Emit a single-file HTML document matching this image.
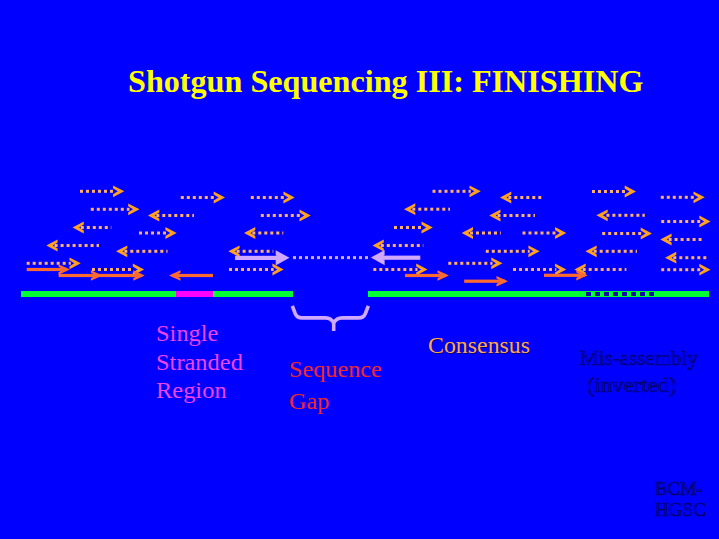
<!DOCTYPE html>
<html><head><meta charset="utf-8"><style>
html,body{margin:0;padding:0;}
body{width:719px;height:539px;background:#0000FF;position:relative;overflow:hidden;font-family:"Liberation Serif",serif;}
</style></head><body>
<svg width="719" height="539" viewBox="0 0 719 539" style="position:absolute;left:0;top:0">
<rect fill="#00FF33" x="21" y="291" width="155" height="6"/>
<rect fill="#FF00FF" x="176" y="291" width="37" height="6"/>
<rect fill="#00FF33" x="213" y="291" width="80" height="6"/>
<rect fill="#00FF33" x="368" y="291" width="341" height="6"/>
<g fill="#1010A0"><rect x="586" y="292" width="5" height="4"/><rect x="595" y="292" width="5" height="4"/><rect x="604" y="292" width="5" height="4"/><rect x="613" y="292" width="5" height="4"/><rect x="622" y="292" width="5" height="4"/><rect x="631" y="292" width="5" height="4"/><rect x="640" y="292" width="5" height="4"/><rect x="649" y="292" width="5" height="4"/></g><g fill="#FFB060"><rect x="80.00" y="189.80" width="3.00" height="3"/><rect x="86.00" y="189.80" width="3.00" height="3"/><rect x="92.00" y="189.80" width="3.00" height="3"/><rect x="98.00" y="189.80" width="3.00" height="3"/><rect x="104.00" y="189.80" width="3.00" height="3"/><rect x="110.00" y="189.80" width="3.00" height="3"/></g><polygon fill="#FFA020" points="124.30,191.30 113.00,185.40 113.00,188.30 117.80,191.30 113.00,194.30 113.00,197.20"/><g fill="#FFB060"><rect x="90.80" y="207.80" width="3.00" height="3"/><rect x="96.80" y="207.80" width="3.00" height="3"/><rect x="102.80" y="207.80" width="3.00" height="3"/><rect x="108.80" y="207.80" width="3.00" height="3"/><rect x="114.80" y="207.80" width="3.00" height="3"/><rect x="120.80" y="207.80" width="3.00" height="3"/><rect x="126.80" y="207.80" width="2.70" height="3"/></g><polygon fill="#FFA020" points="139.50,209.30 128.20,203.40 128.20,206.30 133.00,209.30 128.20,212.30 128.20,215.20"/><g fill="#FFB060"><rect x="156.30" y="214.00" width="3.00" height="3"/><rect x="162.30" y="214.00" width="3.00" height="3"/><rect x="168.30" y="214.00" width="3.00" height="3"/><rect x="174.30" y="214.00" width="3.00" height="3"/><rect x="180.30" y="214.00" width="3.00" height="3"/><rect x="186.30" y="214.00" width="3.00" height="3"/><rect x="192.30" y="214.00" width="1.70" height="3"/></g><polygon fill="#FFA020" points="148.00,215.50 159.30,209.60 159.30,212.50 154.50,215.50 159.30,218.50 159.30,221.40"/><g fill="#FFB060"><rect x="80.80" y="226.00" width="3.00" height="3"/><rect x="86.80" y="226.00" width="3.00" height="3"/><rect x="92.80" y="226.00" width="3.00" height="3"/><rect x="98.80" y="226.00" width="3.00" height="3"/><rect x="104.80" y="226.00" width="3.00" height="3"/><rect x="110.80" y="226.00" width="0.50" height="3"/></g><polygon fill="#FFA020" points="72.50,227.50 83.80,221.60 83.80,224.50 79.00,227.50 83.80,230.50 83.80,233.40"/><g fill="#FFB060"><rect x="139.00" y="231.50" width="3.00" height="3"/><rect x="145.00" y="231.50" width="3.00" height="3"/><rect x="151.00" y="231.50" width="3.00" height="3"/><rect x="157.00" y="231.50" width="3.00" height="3"/><rect x="163.00" y="231.50" width="3.00" height="3"/></g><polygon fill="#FFA020" points="176.70,233.00 165.40,227.10 165.40,230.00 170.20,233.00 165.40,236.00 165.40,238.90"/><g fill="#FFB060"><rect x="54.60" y="244.00" width="3.00" height="3"/><rect x="60.60" y="244.00" width="3.00" height="3"/><rect x="66.60" y="244.00" width="3.00" height="3"/><rect x="72.60" y="244.00" width="3.00" height="3"/><rect x="78.60" y="244.00" width="3.00" height="3"/><rect x="84.60" y="244.00" width="3.00" height="3"/><rect x="90.60" y="244.00" width="3.00" height="3"/><rect x="96.60" y="244.00" width="2.40" height="3"/></g><polygon fill="#FFA020" points="46.30,245.50 57.60,239.60 57.60,242.50 52.80,245.50 57.60,248.50 57.60,251.40"/><g fill="#FFB060"><rect x="124.30" y="249.80" width="3.00" height="3"/><rect x="130.30" y="249.80" width="3.00" height="3"/><rect x="136.30" y="249.80" width="3.00" height="3"/><rect x="142.30" y="249.80" width="3.00" height="3"/><rect x="148.30" y="249.80" width="3.00" height="3"/><rect x="154.30" y="249.80" width="3.00" height="3"/><rect x="160.30" y="249.80" width="3.00" height="3"/><rect x="166.30" y="249.80" width="1.20" height="3"/></g><polygon fill="#FFA020" points="116.00,251.30 127.30,245.40 127.30,248.30 122.50,251.30 127.30,254.30 127.30,257.20"/><g fill="#FFB060"><rect x="26.70" y="261.80" width="3.00" height="3"/><rect x="32.70" y="261.80" width="3.00" height="3"/><rect x="38.70" y="261.80" width="3.00" height="3"/><rect x="44.70" y="261.80" width="3.00" height="3"/><rect x="50.70" y="261.80" width="3.00" height="3"/><rect x="56.70" y="261.80" width="3.00" height="3"/><rect x="62.70" y="261.80" width="3.00" height="3"/><rect x="68.70" y="261.80" width="2.10" height="3"/></g><polygon fill="#FFA020" points="80.80,263.30 69.50,257.40 69.50,260.30 74.30,263.30 69.50,266.30 69.50,269.20"/><g fill="#FFB060"><rect x="92.00" y="268.00" width="3.00" height="3"/><rect x="98.00" y="268.00" width="3.00" height="3"/><rect x="104.00" y="268.00" width="3.00" height="3"/><rect x="110.00" y="268.00" width="3.00" height="3"/><rect x="116.00" y="268.00" width="3.00" height="3"/><rect x="122.00" y="268.00" width="3.00" height="3"/><rect x="128.00" y="268.00" width="3.00" height="3"/></g><polygon fill="#FFA020" points="144.10,269.50 132.80,263.60 132.80,266.50 137.60,269.50 132.80,272.50 132.80,275.40"/><g fill="#FFB060"><rect x="180.80" y="196.00" width="3.00" height="3"/><rect x="186.80" y="196.00" width="3.00" height="3"/><rect x="192.80" y="196.00" width="3.00" height="3"/><rect x="198.80" y="196.00" width="3.00" height="3"/><rect x="204.80" y="196.00" width="3.00" height="3"/><rect x="210.80" y="196.00" width="3.00" height="3"/></g><polygon fill="#FFA020" points="225.00,197.50 213.70,191.60 213.70,194.50 218.50,197.50 213.70,200.50 213.70,203.40"/><g fill="#FFB060"><rect x="250.80" y="196.00" width="3.00" height="3"/><rect x="256.80" y="196.00" width="3.00" height="3"/><rect x="262.80" y="196.00" width="3.00" height="3"/><rect x="268.80" y="196.00" width="3.00" height="3"/><rect x="274.80" y="196.00" width="3.00" height="3"/><rect x="280.80" y="196.00" width="3.00" height="3"/></g><polygon fill="#FFA020" points="294.70,197.50 283.40,191.60 283.40,194.50 288.20,197.50 283.40,200.50 283.40,203.40"/><g fill="#FFB060"><rect x="260.80" y="214.00" width="3.00" height="3"/><rect x="266.80" y="214.00" width="3.00" height="3"/><rect x="272.80" y="214.00" width="3.00" height="3"/><rect x="278.80" y="214.00" width="3.00" height="3"/><rect x="284.80" y="214.00" width="3.00" height="3"/><rect x="290.80" y="214.00" width="3.00" height="3"/><rect x="296.80" y="214.00" width="3.00" height="3"/></g><polygon fill="#FFA020" points="310.80,215.50 299.50,209.60 299.50,212.50 304.30,215.50 299.50,218.50 299.50,221.40"/><g fill="#FFB060"><rect x="252.30" y="231.50" width="3.00" height="3"/><rect x="258.30" y="231.50" width="3.00" height="3"/><rect x="264.30" y="231.50" width="3.00" height="3"/><rect x="270.30" y="231.50" width="3.00" height="3"/><rect x="276.30" y="231.50" width="3.00" height="3"/><rect x="282.30" y="231.50" width="1.00" height="3"/></g><polygon fill="#FFA020" points="244.00,233.00 255.30,227.10 255.30,230.00 250.50,233.00 255.30,236.00 255.30,238.90"/><g fill="#FFB060"><rect x="236.60" y="249.80" width="3.00" height="3"/><rect x="242.60" y="249.80" width="3.00" height="3"/><rect x="248.60" y="249.80" width="3.00" height="3"/><rect x="254.60" y="249.80" width="3.00" height="3"/><rect x="260.60" y="249.80" width="3.00" height="3"/><rect x="266.60" y="249.80" width="3.00" height="3"/><rect x="272.60" y="249.80" width="0.70" height="3"/></g><polygon fill="#FFA020" points="228.30,251.30 239.60,245.40 239.60,248.30 234.80,251.30 239.60,254.30 239.60,257.20"/><g fill="#FFB060"><rect x="229.00" y="268.00" width="3.00" height="3"/><rect x="235.00" y="268.00" width="3.00" height="3"/><rect x="241.00" y="268.00" width="3.00" height="3"/><rect x="247.00" y="268.00" width="3.00" height="3"/><rect x="253.00" y="268.00" width="3.00" height="3"/><rect x="259.00" y="268.00" width="3.00" height="3"/><rect x="265.00" y="268.00" width="3.00" height="3"/><rect x="271.00" y="268.00" width="2.70" height="3"/></g><polygon fill="#FFA020" points="283.70,269.50 272.40,263.60 272.40,266.50 277.20,269.50 272.40,272.50 272.40,275.40"/><g fill="#FFB060"><rect x="380.80" y="244.00" width="3.00" height="3"/><rect x="386.80" y="244.00" width="3.00" height="3"/><rect x="392.80" y="244.00" width="3.00" height="3"/><rect x="398.80" y="244.00" width="3.00" height="3"/><rect x="404.80" y="244.00" width="3.00" height="3"/><rect x="410.80" y="244.00" width="3.00" height="3"/><rect x="416.80" y="244.00" width="3.00" height="3"/><rect x="422.80" y="244.00" width="0.50" height="3"/></g><polygon fill="#FFA020" points="372.50,245.50 383.80,239.60 383.80,242.50 379.00,245.50 383.80,248.50 383.80,251.40"/><g fill="#FFB060"><rect x="373.30" y="268.00" width="3.00" height="3"/><rect x="379.30" y="268.00" width="3.00" height="3"/><rect x="385.30" y="268.00" width="3.00" height="3"/><rect x="391.30" y="268.00" width="3.00" height="3"/><rect x="397.30" y="268.00" width="3.00" height="3"/><rect x="403.30" y="268.00" width="3.00" height="3"/><rect x="409.30" y="268.00" width="3.00" height="3"/><rect x="415.30" y="268.00" width="2.20" height="3"/></g><polygon fill="#FFA020" points="427.50,269.50 416.20,263.60 416.20,266.50 421.00,269.50 416.20,272.50 416.20,275.40"/><g fill="#FFB060"><rect x="432.50" y="189.80" width="3.00" height="3"/><rect x="438.50" y="189.80" width="3.00" height="3"/><rect x="444.50" y="189.80" width="3.00" height="3"/><rect x="450.50" y="189.80" width="3.00" height="3"/><rect x="456.50" y="189.80" width="3.00" height="3"/><rect x="462.50" y="189.80" width="3.00" height="3"/><rect x="468.50" y="189.80" width="2.30" height="3"/></g><polygon fill="#FFA020" points="480.80,191.30 469.50,185.40 469.50,188.30 474.30,191.30 469.50,194.30 469.50,197.20"/><g fill="#FFB060"><rect x="412.30" y="207.70" width="3.00" height="3"/><rect x="418.30" y="207.70" width="3.00" height="3"/><rect x="424.30" y="207.70" width="3.00" height="3"/><rect x="430.30" y="207.70" width="3.00" height="3"/><rect x="436.30" y="207.70" width="3.00" height="3"/><rect x="442.30" y="207.70" width="3.00" height="3"/><rect x="448.30" y="207.70" width="1.70" height="3"/></g><polygon fill="#FFA020" points="404.00,209.20 415.30,203.30 415.30,206.20 410.50,209.20 415.30,212.20 415.30,215.10"/><g fill="#FFB060"><rect x="394.00" y="226.00" width="3.00" height="3"/><rect x="400.00" y="226.00" width="3.00" height="3"/><rect x="406.00" y="226.00" width="3.00" height="3"/><rect x="412.00" y="226.00" width="3.00" height="3"/><rect x="418.00" y="226.00" width="3.00" height="3"/></g><polygon fill="#FFA020" points="432.80,227.50 421.50,221.60 421.50,224.50 426.30,227.50 421.50,230.50 421.50,233.40"/><g fill="#FFB060"><rect x="470.00" y="231.50" width="3.00" height="3"/><rect x="476.00" y="231.50" width="3.00" height="3"/><rect x="482.00" y="231.50" width="3.00" height="3"/><rect x="488.00" y="231.50" width="3.00" height="3"/><rect x="494.00" y="231.50" width="3.00" height="3"/><rect x="500.00" y="231.50" width="0.80" height="3"/></g><polygon fill="#FFA020" points="461.70,233.00 473.00,227.10 473.00,230.00 468.20,233.00 473.00,236.00 473.00,238.90"/><g fill="#FFB060"><rect x="508.30" y="196.00" width="3.00" height="3"/><rect x="514.30" y="196.00" width="3.00" height="3"/><rect x="520.30" y="196.00" width="3.00" height="3"/><rect x="526.30" y="196.00" width="3.00" height="3"/><rect x="532.30" y="196.00" width="3.00" height="3"/><rect x="538.30" y="196.00" width="3.00" height="3"/></g><polygon fill="#FFA020" points="500.00,197.50 511.30,191.60 511.30,194.50 506.50,197.50 511.30,200.50 511.30,203.40"/><g fill="#FFB060"><rect x="497.50" y="214.00" width="3.00" height="3"/><rect x="503.50" y="214.00" width="3.00" height="3"/><rect x="509.50" y="214.00" width="3.00" height="3"/><rect x="515.50" y="214.00" width="3.00" height="3"/><rect x="521.50" y="214.00" width="3.00" height="3"/><rect x="527.50" y="214.00" width="3.00" height="3"/><rect x="533.50" y="214.00" width="1.50" height="3"/></g><polygon fill="#FFA020" points="489.20,215.50 500.50,209.60 500.50,212.50 495.70,215.50 500.50,218.50 500.50,221.40"/><g fill="#FFB060"><rect x="522.50" y="231.50" width="3.00" height="3"/><rect x="528.50" y="231.50" width="3.00" height="3"/><rect x="534.50" y="231.50" width="3.00" height="3"/><rect x="540.50" y="231.50" width="3.00" height="3"/><rect x="546.50" y="231.50" width="3.00" height="3"/><rect x="552.50" y="231.50" width="3.00" height="3"/></g><polygon fill="#FFA020" points="566.30,233.00 555.00,227.10 555.00,230.00 559.80,233.00 555.00,236.00 555.00,238.90"/><g fill="#FFB060"><rect x="485.80" y="249.80" width="3.00" height="3"/><rect x="491.80" y="249.80" width="3.00" height="3"/><rect x="497.80" y="249.80" width="3.00" height="3"/><rect x="503.80" y="249.80" width="3.00" height="3"/><rect x="509.80" y="249.80" width="3.00" height="3"/><rect x="515.80" y="249.80" width="3.00" height="3"/><rect x="521.80" y="249.80" width="3.00" height="3"/><rect x="527.80" y="249.80" width="1.90" height="3"/></g><polygon fill="#FFA020" points="539.70,251.30 528.40,245.40 528.40,248.30 533.20,251.30 528.40,254.30 528.40,257.20"/><g fill="#FFB060"><rect x="448.30" y="261.80" width="3.00" height="3"/><rect x="454.30" y="261.80" width="3.00" height="3"/><rect x="460.30" y="261.80" width="3.00" height="3"/><rect x="466.30" y="261.80" width="3.00" height="3"/><rect x="472.30" y="261.80" width="3.00" height="3"/><rect x="478.30" y="261.80" width="3.00" height="3"/><rect x="484.30" y="261.80" width="3.00" height="3"/><rect x="490.30" y="261.80" width="2.20" height="3"/></g><polygon fill="#FFA020" points="502.50,263.30 491.20,257.40 491.20,260.30 496.00,263.30 491.20,266.30 491.20,269.20"/><g fill="#FFB060"><rect x="513.00" y="268.00" width="3.00" height="3"/><rect x="519.00" y="268.00" width="3.00" height="3"/><rect x="525.00" y="268.00" width="3.00" height="3"/><rect x="531.00" y="268.00" width="3.00" height="3"/><rect x="537.00" y="268.00" width="3.00" height="3"/><rect x="543.00" y="268.00" width="3.00" height="3"/><rect x="549.00" y="268.00" width="3.00" height="3"/><rect x="555.00" y="268.00" width="1.30" height="3"/></g><polygon fill="#FFA020" points="566.30,269.50 555.00,263.60 555.00,266.50 559.80,269.50 555.00,272.50 555.00,275.40"/><g fill="#FFB060"><rect x="582.70" y="268.00" width="3.00" height="3"/><rect x="588.70" y="268.00" width="3.00" height="3"/><rect x="594.70" y="268.00" width="3.00" height="3"/><rect x="600.70" y="268.00" width="3.00" height="3"/><rect x="606.70" y="268.00" width="3.00" height="3"/><rect x="612.70" y="268.00" width="3.00" height="3"/><rect x="618.70" y="268.00" width="3.00" height="3"/><rect x="624.70" y="268.00" width="1.70" height="3"/></g><polygon fill="#FFA020" points="574.40,269.50 585.70,263.60 585.70,266.50 580.90,269.50 585.70,272.50 585.70,275.40"/><g fill="#FFB060"><rect x="593.70" y="249.80" width="3.00" height="3"/><rect x="599.70" y="249.80" width="3.00" height="3"/><rect x="605.70" y="249.80" width="3.00" height="3"/><rect x="611.70" y="249.80" width="3.00" height="3"/><rect x="617.70" y="249.80" width="3.00" height="3"/><rect x="623.70" y="249.80" width="3.00" height="3"/><rect x="629.70" y="249.80" width="3.00" height="3"/><rect x="635.70" y="249.80" width="1.30" height="3"/></g><polygon fill="#FFA020" points="585.40,251.30 596.70,245.40 596.70,248.30 591.90,251.30 596.70,254.30 596.70,257.20"/><g fill="#FFB060"><rect x="592.00" y="190.00" width="3.00" height="3"/><rect x="598.00" y="190.00" width="3.00" height="3"/><rect x="604.00" y="190.00" width="3.00" height="3"/><rect x="610.00" y="190.00" width="3.00" height="3"/><rect x="616.00" y="190.00" width="3.00" height="3"/><rect x="622.00" y="190.00" width="3.00" height="3"/></g><polygon fill="#FFA020" points="636.00,191.50 624.70,185.60 624.70,188.50 629.50,191.50 624.70,194.50 624.70,197.40"/><g fill="#FFB060"><rect x="660.80" y="195.80" width="3.00" height="3"/><rect x="666.80" y="195.80" width="3.00" height="3"/><rect x="672.80" y="195.80" width="3.00" height="3"/><rect x="678.80" y="195.80" width="3.00" height="3"/><rect x="684.80" y="195.80" width="3.00" height="3"/><rect x="690.80" y="195.80" width="3.00" height="3"/></g><polygon fill="#FFA020" points="704.80,197.30 693.50,191.40 693.50,194.30 698.30,197.30 693.50,200.30 693.50,203.20"/><g fill="#FFB060"><rect x="606.40" y="213.80" width="3.00" height="3"/><rect x="612.40" y="213.80" width="3.00" height="3"/><rect x="618.40" y="213.80" width="3.00" height="3"/><rect x="624.40" y="213.80" width="3.00" height="3"/><rect x="630.40" y="213.80" width="3.00" height="3"/><rect x="636.40" y="213.80" width="3.00" height="3"/><rect x="642.40" y="213.80" width="2.40" height="3"/></g><polygon fill="#FFA020" points="596.40,215.30 607.70,209.40 607.70,212.30 602.90,215.30 607.70,218.30 607.70,221.20"/><g fill="#FFB060"><rect x="661.20" y="220.00" width="3.00" height="3"/><rect x="667.20" y="220.00" width="3.00" height="3"/><rect x="673.20" y="220.00" width="3.00" height="3"/><rect x="679.20" y="220.00" width="3.00" height="3"/><rect x="685.20" y="220.00" width="3.00" height="3"/><rect x="691.20" y="220.00" width="3.00" height="3"/><rect x="697.20" y="220.00" width="3.00" height="3"/></g><polygon fill="#FFA020" points="710.60,221.50 699.30,215.60 699.30,218.50 704.10,221.50 699.30,224.50 699.30,227.40"/><g fill="#FFB060"><rect x="602.20" y="232.00" width="3.00" height="3"/><rect x="608.20" y="232.00" width="3.00" height="3"/><rect x="614.20" y="232.00" width="3.00" height="3"/><rect x="620.20" y="232.00" width="3.00" height="3"/><rect x="626.20" y="232.00" width="3.00" height="3"/><rect x="632.20" y="232.00" width="3.00" height="3"/><rect x="638.20" y="232.00" width="3.00" height="3"/></g><polygon fill="#FFA020" points="652.00,233.50 640.70,227.60 640.70,230.50 645.50,233.50 640.70,236.50 640.70,239.40"/><g fill="#FFB060"><rect x="668.60" y="238.00" width="3.00" height="3"/><rect x="674.60" y="238.00" width="3.00" height="3"/><rect x="680.60" y="238.00" width="3.00" height="3"/><rect x="686.60" y="238.00" width="3.00" height="3"/><rect x="692.60" y="238.00" width="3.00" height="3"/><rect x="698.60" y="238.00" width="3.00" height="3"/></g><polygon fill="#FFA020" points="660.30,239.50 671.60,233.60 671.60,236.50 666.80,239.50 671.60,242.50 671.60,245.40"/><g fill="#FFB060"><rect x="673.30" y="256.20" width="3.00" height="3"/><rect x="679.30" y="256.20" width="3.00" height="3"/><rect x="685.30" y="256.20" width="3.00" height="3"/><rect x="691.30" y="256.20" width="3.00" height="3"/><rect x="697.30" y="256.20" width="3.00" height="3"/><rect x="703.30" y="256.20" width="3.00" height="3"/></g><polygon fill="#FFA020" points="665.00,257.70 676.30,251.80 676.30,254.70 671.50,257.70 676.30,260.70 676.30,263.60"/><g fill="#FFB060"><rect x="661.20" y="268.20" width="3.00" height="3"/><rect x="667.20" y="268.20" width="3.00" height="3"/><rect x="673.20" y="268.20" width="3.00" height="3"/><rect x="679.20" y="268.20" width="3.00" height="3"/><rect x="685.20" y="268.20" width="3.00" height="3"/><rect x="691.20" y="268.20" width="3.00" height="3"/><rect x="697.20" y="268.20" width="3.00" height="3"/></g><polygon fill="#FFA020" points="710.60,269.70 699.30,263.80 699.30,266.70 704.10,269.70 699.30,272.70 699.30,275.60"/><rect fill="#FF6A30" x="26.7" y="267.9" width="40.3" height="3.2"/><polygon fill="#FF6A30" points="70.00,269.50 58.50,264.20 58.50,266.70 63.50,269.50 58.50,272.30 58.50,274.80"/><rect fill="#FF6A30" x="58.7" y="273.9" width="83.1" height="3.2"/><polygon fill="#FF6A30" points="144.80,275.50 133.30,270.20 133.30,272.70 138.30,275.50 133.30,278.30 133.30,280.80"/><polygon fill="#FF6A30" points="102.40,275.50 90.90,270.20 90.90,272.70 95.90,275.50 90.90,278.30 90.90,280.80"/><rect fill="#FF6A30" x="172.0" y="273.9" width="41.0" height="3.2"/><polygon fill="#FF6A30" points="169.00,275.50 180.50,270.20 180.50,272.70 175.50,275.50 180.50,278.30 180.50,280.80"/><rect fill="#FF6A30" x="405.0" y="273.9" width="41.0" height="3.2"/><polygon fill="#FF6A30" points="449.00,275.50 437.50,270.20 437.50,272.70 442.50,275.50 437.50,278.30 437.50,280.80"/><rect fill="#FF6A30" x="464.2" y="279.6" width="40.8" height="3.2"/><polygon fill="#FF6A30" points="508.00,281.20 496.50,275.90 496.50,278.40 501.50,281.20 496.50,284.00 496.50,286.50"/><rect fill="#FF6A30" x="544.0" y="273.7" width="40.8" height="3.2"/><polygon fill="#FF6A30" points="587.80,275.30 576.30,270.00 576.30,272.50 581.30,275.30 576.30,278.10 576.30,280.60"/><rect fill="#D0A8FF" x="235" y="255.8" width="48" height="4.2"/><polygon fill="#D0A8FF" points="289.50,257.80 275.70,250.20 275.70,255.30 279.00,257.80 275.70,260.30 275.70,265.40"/><g fill="#D0A8FF"><rect x="293.00" y="256.10" width="3.00" height="3"/><rect x="299.00" y="256.10" width="3.00" height="3"/><rect x="305.00" y="256.10" width="3.00" height="3"/><rect x="311.00" y="256.10" width="3.00" height="3"/><rect x="317.00" y="256.10" width="3.00" height="3"/><rect x="323.00" y="256.10" width="3.00" height="3"/><rect x="329.00" y="256.10" width="3.00" height="3"/><rect x="335.00" y="256.10" width="3.00" height="3"/><rect x="341.00" y="256.10" width="3.00" height="3"/><rect x="347.00" y="256.10" width="3.00" height="3"/><rect x="353.00" y="256.10" width="3.00" height="3"/><rect x="359.00" y="256.10" width="3.00" height="3"/><rect x="365.00" y="256.10" width="3.00" height="3"/></g><rect fill="#D0A8FF" x="377" y="255.6" width="43.3" height="4.2"/><polygon fill="#D0A8FF" points="370.80,257.60 384.60,250.00 384.60,255.10 381.30,257.60 384.60,260.10 384.60,265.20"/><path d="M292.3,305.8 L295.2,313.5 Q297,317.9 302,317.9 L325.5,317.9 Q331,317.9 333.7,323 L333.7,331 M368.3,305.8 L365.4,313.5 Q363.6,317.9 358.6,317.9 L342,317.9 Q336.4,317.9 333.7,323" fill="none" stroke="#D0A8FF" stroke-width="3.6" stroke-linecap="butt" stroke-linejoin="round"/></svg>
<div style="position:absolute;left:128px;top:65.84px;font-size:31px;line-height:31px;color:#FFFF00;font-weight:bold;white-space:nowrap;transform:scaleX(1.037);transform-origin:0 0;">Shotgun Sequencing III: FINISHING</div><div style="position:absolute;left:155.6px;top:321.62px;font-size:23.5px;line-height:23.5px;color:#EE44EE;font-weight:normal;white-space:nowrap;transform:scaleX(1.04);transform-origin:0 0;">Single</div><div style="position:absolute;left:155.6px;top:350.52px;font-size:23.5px;line-height:23.5px;color:#EE44EE;font-weight:normal;white-space:nowrap;transform:scaleX(1.04);transform-origin:0 0;">Stranded</div><div style="position:absolute;left:155.6px;top:379.02px;font-size:23.5px;line-height:23.5px;color:#EE44EE;font-weight:normal;white-space:nowrap;transform:scaleX(1.04);transform-origin:0 0;">Region</div><div style="position:absolute;left:289px;top:358.22px;font-size:23.5px;line-height:23.5px;color:#F02828;font-weight:normal;white-space:nowrap;transform:scaleX(1.03);transform-origin:0 0;">Sequence</div><div style="position:absolute;left:289px;top:390.32px;font-size:23.5px;line-height:23.5px;color:#F02828;font-weight:normal;white-space:nowrap;transform:scaleX(1.03);transform-origin:0 0;">Gap</div><div style="position:absolute;left:427.8px;top:333.72px;font-size:23.5px;line-height:23.5px;color:#FFA848;font-weight:normal;white-space:nowrap;transform:scaleX(1.015);transform-origin:0 0;text-shadow:1px 1px 0 #000080;">Consensus</div><div style="position:absolute;left:580px;top:347.38px;font-size:22px;line-height:22px;color:#0000F8;font-weight:normal;white-space:nowrap;-webkit-text-stroke:0.7px rgba(0,0,60,0.85);transform:scaleX(0.955);transform-origin:0 0;">Mis-assembly</div><div style="position:absolute;left:587px;top:373.88px;font-size:22px;line-height:22px;color:#0000F8;font-weight:normal;white-space:nowrap;-webkit-text-stroke:0.7px rgba(0,0,60,0.85);transform:scaleX(1.035);transform-origin:0 0;">(inverted)</div><div style="position:absolute;left:655px;top:479.53px;font-size:18px;line-height:18px;color:#0000F8;font-weight:normal;white-space:nowrap;-webkit-text-stroke:0.7px rgba(0,0,60,0.85);transform:scaleX(1.04);transform-origin:0 0;">BCM-</div><div style="position:absolute;left:655px;top:501.22px;font-size:18px;line-height:18px;color:#0000F8;font-weight:normal;white-space:nowrap;-webkit-text-stroke:0.7px rgba(0,0,60,0.85);transform:scaleX(1.06);transform-origin:0 0;">HGSC</div>
</body></html>
